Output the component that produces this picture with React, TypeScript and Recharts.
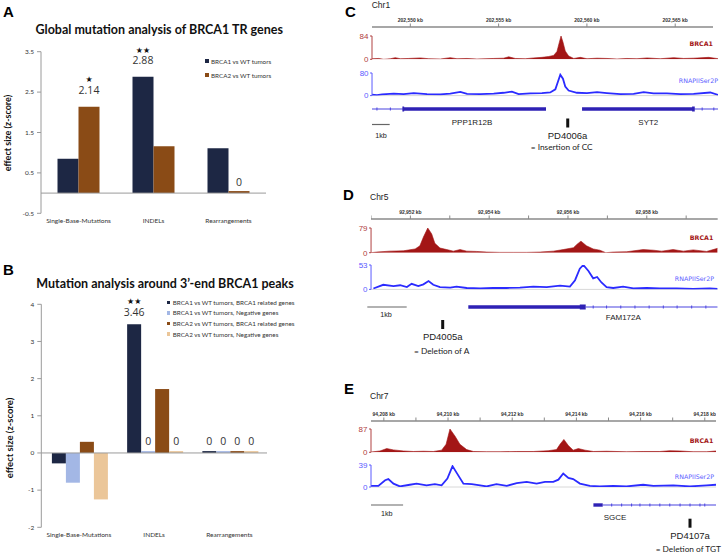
import React from 'react';
import {
  BarChart, Bar, XAxis, YAxis, ReferenceLine, LabelList, Legend,
  ComposedChart, Area, Line, ReferenceArea, Scatter,
} from 'recharts';

// ---------- Panel A / B data ----------
const categories = ['Single-Base-Mutations', 'INDELs', 'Rearrangements'];

const aBrca1 = [0.85, 2.88, 1.11];
const aBrca2 = [2.14, 1.16, 0.05];
const aBrca1Text = ['', '2.88', ''];
const aBrca1Stars = ['', '★★', ''];
const aBrca2Text = ['2.14', '', '0'];
const aBrca2Stars = ['★', '', ''];
const aTicks = [-0.5, 0.5, 1.5, 2.5, 3.5];

const bB1Rel = [-0.28, 3.46, 0.05];
const bB1Neg = [-0.8, 0.05, 0.05];
const bB2Rel = [0.3, 1.72, 0.05];
const bB2Neg = [-1.25, 0.05, 0.05];
const bB1RelText = ['', '3.46', '0'];
const bB1RelStars = ['', '★★', ''];
const bB1NegText = ['', '0', '0'];
const bB2RelText = ['', '', '0'];
const bB2NegText = ['', '0', '0'];
const noStars = ['', '', ''];
const bTicks = [-2, -1, 0, 1, 2, 3, 4];

// ---------- Panel C (Chr1) ----------
const cBrca1Pos = [202547.83, 202548.21, 202548.49, 202548.87, 202549.15, 202549.43, 202549.91, 202550.57, 202551.04, 202551.70, 202552.26, 202552.64, 202553.21, 202553.77, 202554.72, 202555.28, 202555.57, 202555.94, 202556.51, 202556.98, 202557.45, 202557.83, 202558.11, 202558.30, 202558.43, 202558.53, 202558.64, 202558.77, 202558.96, 202559.25, 202559.62, 202560.00, 202560.57, 202561.13, 202561.70, 202562.26, 202562.83, 202563.40, 202564.15, 202564.91, 202565.47, 202566.04, 202566.89, 202567.45];
const cBrca1Val = [2, 3, 0, 2, 6, 2, 3, 5, 2, 1, 6, 2, 3, 1, 3, 4, 9, 3, 2, 5, 7, 10, 14, 28, 60, 84, 62, 30, 12, 3, 7, 2, 4, 3, 1, 3, 2, 5, 2, 6, 3, 4, 7, 2];
const cPolPos = [202547.83, 202548.11, 202548.40, 202549.06, 202549.62, 202550.19, 202550.94, 202551.70, 202552.26, 202552.83, 202553.21, 202553.96, 202554.72, 202555.28, 202555.75, 202556.13, 202556.79, 202557.45, 202557.92, 202558.21, 202558.36, 202558.49, 202558.64, 202558.77, 202558.96, 202559.43, 202560.00, 202560.57, 202561.13, 202561.89, 202562.64, 202563.21, 202563.77, 202564.53, 202565.28, 202566.04, 202566.98, 202567.45];
const cPolVal = [3, 2, 4, 7, 5, 9, 5, 4, 7, 13, 6, 5, 7, 10, 14, 5, 8, 9, 11, 22, 50, 74, 60, 32, 18, 10, 9, 12, 9, 5, 6, 12, 8, 8, 5, 6, 11, 2];
const cTicks = [202550, 202555, 202560, 202565];
const cLabeled = [202550, 202555, 202560, 202565];
const cPeaks = [[202558.31, 202558.87]];
const cThin = [[202547.83, 202549.59], [202566.0, 202567.45]];
const cThick = [[202549.59, 202557.68], [202559.72, 202566.0]];
const cBoxes = [[202549.55, 202549.65], [202565.95, 202566.10]];
const cMarks = [202548.11, 202548.87, 202566.52, 202567.18];
const cMutation = 202558.91;

// ---------- Panel D (Chr5) ----------
const dBrca1Pos = [92951.00, 92951.14, 92951.48, 92951.82, 92952.12, 92952.24, 92952.33, 92952.44, 92952.54, 92952.62, 92952.75, 92952.92, 92953.09, 92953.26, 92953.43, 92953.68, 92953.94, 92954.27, 92954.61, 92954.95, 92955.29, 92955.63, 92955.88, 92956.14, 92956.24, 92956.33, 92956.47, 92956.64, 92956.81, 92956.96, 92957.15, 92957.49, 92957.91, 92958.17, 92958.38, 92958.67, 92958.93, 92959.18, 92959.52, 92959.80];
const dBrca1Val = [0, 2, 5, 6, 12, 22, 50, 79, 60, 30, 15, 10, 5, 10, 5, 4, 2, 1, 1, 1, 2, 5, 10, 16, 28, 37, 22, 12, 8, 0, 2, 3, 10, 8, 5, 10, 5, 9, 4, 14];
const dPolPos = [92951.06, 92951.31, 92951.57, 92951.74, 92951.91, 92952.03, 92952.20, 92952.33, 92952.46, 92952.58, 92952.75, 92953.01, 92953.17, 92953.43, 92953.77, 92954.10, 92954.44, 92954.78, 92955.12, 92955.46, 92955.80, 92956.05, 92956.18, 92956.30, 92956.39, 92956.52, 92956.64, 92956.74, 92956.85, 92956.98, 92957.15, 92957.40, 92957.66, 92958.00, 92958.33, 92958.76, 92959.18, 92959.60, 92959.80];
const dPolVal = [2, 10, 7, 9, 5, 12, 7, 11, 18, 10, 5, 4, 6, 3, 2, 3, 3, 4, 6, 5, 8, 6, 20, 45, 53, 40, 24, 27, 15, 5, 3, 6, 2, 3, 2, 2, 1, 2, 1];
const dTicks = [92951, 92952, 92953, 92954, 92955, 92956, 92957, 92958, 92959];
const dLabeled = [92952, 92954, 92956, 92958];
const dPeaks = [[92952.29, 92952.58], [92956.09, 92956.39]];
const dThin = [[92956.45, 92959.80]];
const dThick = [[92953.47, 92956.35]];
const dBoxes = [[92956.30, 92956.45]];
const dMarks = [92956.64, 92956.98, 92957.34, 92957.70, 92958.06, 92958.42, 92958.77, 92959.14, 92959.50];
const dMutation = 92952.82;

// ---------- Panel E (Chr7) ----------
const eBrca1Pos = [94207.60, 94207.88, 94208.09, 94208.30, 94208.61, 94208.92, 94209.23, 94209.54, 94209.80, 94209.94, 94210.06, 94210.22, 94210.37, 94210.58, 94210.79, 94211.20, 94211.62, 94212.14, 94212.66, 94213.12, 94213.38, 94213.49, 94213.61, 94213.75, 94213.90, 94214.06, 94214.27, 94214.53, 94214.94, 94215.56, 94216.08, 94216.60, 94216.91, 94217.23, 94217.64, 94218.06, 94218.35];
const eBrca1Val = [1, 5, 14, 9, 5, 3, 4, 3, 8, 30, 87, 60, 30, 10, 3, 2, 2, 3, 3, 6, 10, 30, 48, 25, 8, 14, 8, 3, 4, 2, 3, 3, 6, 5, 2, 2, 5];
const ePolPos = [94207.60, 94207.83, 94208.04, 94208.14, 94208.30, 94208.50, 94208.81, 94209.02, 94209.33, 94209.59, 94209.80, 94209.98, 94210.14, 94210.27, 94210.48, 94210.74, 94211.00, 94211.20, 94211.51, 94211.83, 94212.14, 94212.45, 94212.76, 94213.02, 94213.28, 94213.44, 94213.59, 94213.75, 94213.90, 94214.11, 94214.42, 94214.73, 94215.15, 94215.56, 94216.08, 94216.40, 94217.02, 94217.54, 94218.06, 94218.35];
const ePolVal = [2, 2, 12, 14, 6, 1, 4, 6, 3, 5, 3, 15, 37, 25, 6, 5, 3, 1, 5, 2, 7, 9, 6, 9, 9, 13, 24, 16, 14, 6, 2, 1, 2, 1, 4, 2, 3, 1, 3, 4];
const eTicks = [94208, 94209, 94210, 94211, 94212, 94213, 94214, 94215, 94216, 94217, 94218];
const eLabeled = [94208, 94210, 94212, 94214, 94216, 94218];
const ePeaks = [[94209.91, 94210.22], [94213.49, 94213.80]];
const eThin = [[94214.82, 94218.35]];
const eThick = [[94214.53, 94214.82]];
const eBoxes: number[][] = [];
const eMarks = [94215.10, 94215.41, 94215.72, 94215.98, 94216.29, 94216.60, 94216.91, 94217.23, 94217.54, 94217.85, 94218.00];
const eMutation = 94217.54;

// ---------- styles ----------
const FB = 'Lato, "Open Sans", sans-serif';
const FT = '"Liberation Sans", Arial, sans-serif';
const NAVY = '#1d2744';
const BROWN = '#8a4b16';
const LBLUE = '#a3b7e5';
const TAN = '#ebc699';
const RED = '#a31616';
const BLUE = '#2b2bff';
const GENE = '#2e21b5';
const GENE_THIN = '#4b44e0';

type TxtProps = {
  x: number; y: number; size: number; children: React.ReactNode;
  anchor?: 'start' | 'middle' | 'end'; weight?: number; color?: string; family?: string; rotate?: boolean;
};
function Txt({ x, y, size, children, anchor = 'middle', weight = 400, color = '#222', family = FT, rotate }: TxtProps) {
  const tx = anchor === 'start' ? '0' : anchor === 'end' ? '-100%' : '-50%';
  return (
    <div style={{
      position: 'absolute', left: x, top: y,
      transform: `translate(${tx}, -50%)${rotate ? ' rotate(-90deg)' : ''}`,
      fontSize: size, fontWeight: weight, color, fontFamily: family, lineHeight: 1, whiteSpace: 'nowrap',
    }}>{children}</div>
  );
}

const makeLabel = (stars: string[], starredGap: number, plainGap: number, starGap: number) => (props: any) => {
  const vb = props.viewBox && props.viewBox.width !== undefined ? props.viewBox : props;
  const { x, y, width } = vb;
  const idx = props.index;
  const text = props.value;
  if (!text) return null;
  const st = stars[idx] || '';
  const cx = x + width / 2;
  return (
    <g>
      {st ? <text x={cx} y={y - starGap} textAnchor="middle" fontSize={8} fontFamily="DejaVu Sans" fill="#111">{st}</text> : null}
      <text x={cx} y={y - (st ? starredGap : plainGap)} textAnchor="middle" fontSize={10.5} fontFamily='"Open Sans", sans-serif' fill="#333">{text}</text>
    </g>
  );
};

const legendContent = (rowH: number) => (props: any) => (
  <div>
    {(props.payload || []).map((p: any, i: number) => (
      <div key={i} style={{ display: 'flex', alignItems: 'center', height: rowH, fontSize: 6.3, fontFamily: FB, color: '#333', whiteSpace: 'nowrap' }}>
        <span style={{ display: 'inline-block', width: 3.5, height: 3.5, background: p.color, marginRight: 2.5 }} />
        {p.value}
      </div>
    ))}
  </div>
);

const dataA = categories.map((c, i) => ({ cat: c, b1: aBrca1[i], b2: aBrca2[i], t1: aBrca1Text[i], t2: aBrca2Text[i] }));
const dataB = categories.map((c, i) => ({
  cat: c, r1: bB1Rel[i], n1: bB1Neg[i], r2: bB2Rel[i], n2: bB2Neg[i],
  tr1: bB1RelText[i], tn1: bB1NegText[i], tr2: bB2RelText[i], tn2: bB2NegText[i],
}));

const axisTick = { fontSize: 6.5, fill: '#333', fontFamily: FB };

function ChartA() {
  return (
    <div style={{ position: 'absolute', left: 0, top: 40 }}>
      <BarChart width={270} height={195} data={dataA} margin={{ top: 11.7, right: 4, bottom: 6.7, left: 0 }} barCategoryGap={16.5} barGap={0}>
        <XAxis dataKey="cat" height={15} axisLine={false} tickLine={false} tickSize={0} tickMargin={5} interval={0} tick={axisTick} />
        <YAxis domain={[-0.5, 3.5]} ticks={aTicks} width={41} interval={0} tick={axisTick} tickSize={4} tickMargin={3}
          axisLine={{ stroke: '#9a9a9a' }} tickLine={{ stroke: '#9a9a9a' }} />
        <ReferenceLine y={0} stroke="#9a9a9a" />
        <Bar dataKey="b1" name="BRCA1 vs WT tumors" fill={NAVY} isAnimationActive={false}>
          <LabelList dataKey="t1" content={makeLabel(aBrca1Stars, 12.3, 5.5, 24)} />
        </Bar>
        <Bar dataKey="b2" name="BRCA2 vs WT tumors" fill={BROWN} isAnimationActive={false}>
          <LabelList dataKey="t2" content={makeLabel(aBrca2Stars, 12.3, 5.5, 24.5)} />
        </Bar>
        <Legend layout="vertical" align="center" verticalAlign="middle" content={legendContent(14)}
          wrapperStyle={{ top: 14.2, left: 205, width: 80, height: 30 }} />
      </BarChart>
    </div>
  );
}

function ChartB() {
  return (
    <div style={{ position: 'absolute', left: 0, top: 290 }}>
      <BarChart width={270} height={255} data={dataB} margin={{ top: 14.3, right: 3, bottom: 2.7, left: 0 }} barCategoryGap={10.6} barGap={0}>
        <XAxis dataKey="cat" height={15} axisLine={false} tickLine={false} tickSize={0} tickMargin={5} interval={0} tick={axisTick} />
        <YAxis domain={[-2, 4]} ticks={bTicks} width={41.3} interval={0} tick={axisTick} tickSize={4} tickMargin={3}
          axisLine={{ stroke: '#9a9a9a' }} tickLine={{ stroke: '#9a9a9a' }} />
        <ReferenceLine y={0} stroke="#9a9a9a" />
        <Bar dataKey="r1" name="BRCA1 vs WT tumors, BRCA1 related genes" fill={NAVY} isAnimationActive={false}>
          <LabelList dataKey="tr1" content={makeLabel(bB1RelStars, 8.3, 6, 20.5)} />
        </Bar>
        <Bar dataKey="n1" name="BRCA1 vs WT tumors, Negative genes" fill={LBLUE} isAnimationActive={false}>
          <LabelList dataKey="tn1" content={makeLabel(noStars, 8.3, 6, 20.5)} />
        </Bar>
        <Bar dataKey="r2" name="BRCA2 vs WT tumors, BRCA1 related genes" fill={BROWN} isAnimationActive={false}>
          <LabelList dataKey="tr2" content={makeLabel(noStars, 8.3, 6, 20.5)} />
        </Bar>
        <Bar dataKey="n2" name="BRCA2 vs WT tumors, Negative genes" fill={TAN} isAnimationActive={false}>
          <LabelList dataKey="tn2" content={makeLabel(noStars, 8.3, 6, 20.5)} />
        </Bar>
        <Legend layout="vertical" align="center" verticalAlign="middle" content={legendContent(10.6)}
          wrapperStyle={{ top: 7, left: 166.7, width: 140, height: 44 }} />
      </BarChart>
    </div>
  );
}

// ---------- genome track panel ----------
type PanelCfg = {
  left: number; right: number; domain: [number, number];
  rulerY: number; rulerRight: number; rulerEnd: number; ticks: number[]; labeled: number[];
  b1Top: number; b1Zero: number; b1Max: number; b1Pos: number[]; b1Val: number[];
  pkTop: number; pkBottom: number; peaks: number[][];
  polTop: number; polZero: number; polMax: number; polPos: number[]; polVal: number[];
  geneY: number; thin: number[][]; thick: number[][]; boxes: number[][]; marks: number[];
  mutation: number; mutDy: number; scaleStart: number; scaleDy: number;
};

const fmtKb = (v: number) => `${Math.round(v).toLocaleString('en-US')} kb`;

function Tracks({ c }: { c: PanelCfg }) {
  const w = c.right - c.left;
  const yw = 32;
  const b1Data = c.b1Pos.map((x, i) => ({ x, v: c.b1Val[i] }));
  const polData = c.polPos.map((x, i) => ({ x, v: c.polVal[i] }));
  return (
    <>
      {/* ruler */}
      <div style={{ position: 'absolute', left: c.left, top: c.rulerY - 20 }}>
        <ComposedChart width={c.rulerRight - c.left} height={24} margin={{ top: 0, right: 0, bottom: 0, left: 0 }} data={b1Data}>
          <XAxis type="number" dataKey="x" orientation="top" domain={[c.domain[0], c.rulerEnd]} ticks={c.ticks} interval={0}
            height={20} allowDataOverflow tickSize={3.5} tickMargin={1.5}
            axisLine={{ stroke: '#8a8a8a', strokeWidth: 1.3 }} tickLine={{ stroke: '#8a8a8a' }}
            tick={{ fontSize: 5, fontWeight: 700, fill: '#333', fontFamily: FT }}
            tickFormatter={(v: number) => (c.labeled.includes(v) ? fmtKb(v) : '')} />
          <YAxis hide domain={[0, 1]} />
        </ComposedChart>
      </div>
      {/* BRCA1 signal */}
      <div style={{ position: 'absolute', left: c.left - yw, top: c.b1Top - 4 }}>
        <ComposedChart width={w + yw} height={c.b1Zero - c.b1Top + 8} data={b1Data} margin={{ top: 4, right: 0, bottom: 4, left: 0 }}>
          <XAxis type="number" dataKey="x" domain={c.domain} hide allowDataOverflow />
          <YAxis domain={[0, c.b1Max]} ticks={[0, c.b1Max]} interval={0} width={yw} allowDataOverflow
            axisLine={{ stroke: '#b04040' }} tickLine={{ stroke: '#b04040' }} tickSize={2} tickMargin={1.5}
            tick={{ fontSize: 8, fill: '#b04040', fontFamily: FT }} />
          <Area type="linear" dataKey="v" stroke={RED} strokeWidth={0.6} fill={RED} fillOpacity={1} dot={false} activeDot={false} isAnimationActive={false} />
        </ComposedChart>
      </div>
      {/* peak calls */}
      <div style={{ position: 'absolute', left: c.left, top: c.pkTop }}>
        <ComposedChart width={w} height={c.pkBottom - c.pkTop} margin={{ top: 0, right: 0, bottom: 0, left: 0 }} data={b1Data}>
          <XAxis type="number" dataKey="x" domain={c.domain} hide allowDataOverflow />
          <YAxis hide domain={[0, 1]} />
          {c.peaks.map((p, i) => (
            <ReferenceArea key={i} x1={p[0]} x2={p[1]} y1={0} y2={1} fill="#e8a2a2" fillOpacity={1} stroke="none" ifOverflow="hidden" />
          ))}
        </ComposedChart>
      </div>
      {/* RNAPII signal */}
      <div style={{ position: 'absolute', left: c.left - yw, top: c.polTop - 4 }}>
        <ComposedChart width={w + yw} height={c.polZero - c.polTop + 8} data={polData} margin={{ top: 4, right: 0, bottom: 4, left: 0 }}>
          <XAxis type="number" dataKey="x" domain={c.domain} hide allowDataOverflow />
          <YAxis domain={[0, c.polMax]} ticks={[0, c.polMax]} interval={0} width={yw} allowDataOverflow
            axisLine={{ stroke: '#5a5aff' }} tickLine={{ stroke: '#5a5aff' }} tickSize={2} tickMargin={1.5}
            tick={{ fontSize: 8, fill: '#5a5aff', fontFamily: FT }} />
          <ReferenceLine y={0} stroke="#d8d8d8" />
          <Line type="linear" dataKey="v" stroke={BLUE} strokeWidth={1.8} dot={false} activeDot={false} isAnimationActive={false} />
        </ComposedChart>
      </div>
      {/* gene models, scale bar, mutation */}
      <div style={{ position: 'absolute', left: c.left - 8, top: c.geneY - 6 }}>
        <ComposedChart width={w + 8} height={30} margin={{ top: 0, right: 0, bottom: 0, left: 8 }} data={[{ x: c.mutation, y: c.mutDy }]}>
          <XAxis type="number" dataKey="x" domain={c.domain} hide allowDataOverflow />
          <YAxis type="number" dataKey="y" domain={[-24, 6]} hide allowDataOverflow />
          {c.thin.map((s, i) => (
            <ReferenceArea key={`t${i}`} x1={s[0]} x2={s[1]} y1={-0.5} y2={0.5} fill={GENE_THIN} fillOpacity={1} stroke="none" ifOverflow="hidden" />
          ))}
          {c.thick.map((s, i) => (
            <ReferenceArea key={`k${i}`} x1={s[0]} x2={s[1]} y1={-1.7} y2={1.7} fill={GENE} fillOpacity={1} stroke="none" ifOverflow="hidden" />
          ))}
          {c.boxes.map((s, i) => (
            <ReferenceArea key={`b${i}`} x1={s[0]} x2={s[1]} y1={-2.6} y2={2.6} fill={GENE} fillOpacity={1} stroke="none" ifOverflow="hidden" />
          ))}
          {c.marks.map((m, i) => (
            <ReferenceLine key={`m${i}`} segment={[{ x: m, y: -1.5 }, { x: m, y: 1.5 }]} stroke={GENE_THIN} strokeWidth={1} ifOverflow="visible" />
          ))}
          <ReferenceLine segment={[{ x: c.scaleStart, y: c.scaleDy }, { x: c.scaleStart + 1, y: c.scaleDy }]} stroke="#666" strokeWidth={1.2} ifOverflow="visible" />
          <Scatter dataKey="y" fill="#111" isAnimationActive={false}
            shape={(p: any) => <rect x={p.cx - 1.5} y={p.cy - 4.5} width={3} height={9} fill="#111" />} />
        </ComposedChart>
      </div>
    </>
  );
}

const panelC: PanelCfg = {
  left: 371.7, right: 718.3, domain: [202547.83, 202567.45],
  rulerY: 26.7, rulerRight: 712.7, rulerEnd: 202567.14, ticks: cTicks, labeled: cLabeled,
  b1Top: 36, b1Zero: 59.3, b1Max: 84, b1Pos: cBrca1Pos, b1Val: cBrca1Val,
  pkTop: 63.3, pkBottom: 65.5, peaks: cPeaks,
  polTop: 72.7, polZero: 95.3, polMax: 80, polPos: cPolPos, polVal: cPolVal,
  geneY: 108.5, thin: cThin, thick: cThick, boxes: cBoxes, marks: cMarks,
  mutation: cMutation, mutDy: -14, scaleStart: 202547.83, scaleDy: -15.5,
};
const panelD: PanelCfg = {
  left: 371, right: 717.7, domain: [92951.0, 92959.8],
  rulerY: 219.3, rulerRight: 717.7, rulerEnd: 92959.8, ticks: dTicks, labeled: dLabeled,
  b1Top: 228, b1Zero: 252.7, b1Max: 79, b1Pos: dBrca1Pos, b1Val: dBrca1Val,
  pkTop: 255.3, pkBottom: 258, peaks: dPeaks,
  polTop: 265.3, polZero: 289.7, polMax: 53, polPos: dPolPos, polVal: dPolVal,
  geneY: 306.7, thin: dThin, thick: dThick, boxes: dBoxes, marks: dMarks,
  mutation: dMutation, mutDy: -17.5, scaleStart: 92950.906, scaleDy: 0,
};
const panelE: PanelCfg = {
  left: 371, right: 716, domain: [94207.6, 94218.35],
  rulerY: 420.7, rulerRight: 716, rulerEnd: 94218.35, ticks: eTicks, labeled: eLabeled,
  b1Top: 428.7, b1Zero: 452, b1Max: 87, b1Pos: eBrca1Pos, b1Val: eBrca1Val,
  pkTop: 455, pkBottom: 457.3, peaks: ePeaks,
  polTop: 464.7, polZero: 486.7, polMax: 39, polPos: ePolPos, polVal: ePolVal,
  geneY: 505, thin: eThin, thick: eThick, boxes: eBoxes, marks: eMarks,
  mutation: eMutation, mutDy: -18.2, scaleStart: 94207.6, scaleDy: 0,
};

export default function App() {
  const pl = { size: 15, weight: 700, anchor: 'start' as const, color: '#000', family: '"Liberation Sans", Arial, sans-serif' };
  const trkLbl = { size: 6.3, weight: 700, anchor: 'end' as const, family: '"DejaVu Sans", sans-serif' };
  return (
    <div style={{ position: 'absolute', left: 0, top: 0, width: 726, height: 555, background: '#fff', overflow: 'hidden' }}>
      <ChartA />
      <ChartB />
      <Tracks c={panelC} />
      <Tracks c={panelD} />
      <Tracks c={panelE} />

      {/* panel letters */}
      <Txt x={3} y={10.8} {...pl}>A</Txt>
      <Txt x={3} y={269.2} {...pl}>B</Txt>
      <Txt x={345} y={10.8} {...pl}>C</Txt>
      <Txt x={343} y={193.5} {...pl}>D</Txt>
      <Txt x={344} y={387.5} {...pl}>E</Txt>

      {/* bar chart titles */}
      <Txt x={159.2} y={30.2} size={12.5} weight={700} family={FB} color="#111">Global mutation analysis of BRCA1 TR genes</Txt>
      <Txt x={165} y={284.3} size={12.5} weight={700} family={FB} color="#111">Mutation analysis around 3’-end BRCA1 peaks</Txt>
      <Txt x={7} y={132.7} size={9} weight={700} family={FB} color="#111" rotate>effect size (z-score)</Txt>
      <Txt x={9.5} y={438} size={9.5} weight={700} family={FB} color="#111" rotate>effect size (z-score)</Txt>

      {/* C texts */}
      <Txt x={371.7} y={5.3} size={8.5} anchor="start">Chr1</Txt>
      <Txt x={713} y={44} {...trkLbl} color={RED}>BRCA1</Txt>
      <Txt x={718} y={81} {...trkLbl} weight={400} color="#5a5aff">RNAPIISer2P</Txt>
      <Txt x={472} y={123.3} size={8}>PPP1R12B</Txt>
      <Txt x={648.3} y={123.3} size={8}>SYT2</Txt>
      <Txt x={381} y={136} size={7.2}>1kb</Txt>
      <Txt x={567.5} y={135.7} size={9.5}>PD4006a</Txt>
      <Txt x={561.7} y={147} size={8.3} family={FB}>= Insertion of CC</Txt>

      {/* D texts */}
      <Txt x={370} y={196.7} size={8.5} anchor="start">Chr5</Txt>
      <Txt x={713.3} y={237.7} {...trkLbl} color={RED}>BRCA1</Txt>
      <Txt x={714} y={279.3} {...trkLbl} weight={400} color="#5a5aff">RNAPIISer2P</Txt>
      <Txt x={623.3} y={318.3} size={8}>FAM172A</Txt>
      <Txt x={386} y={315} size={7.2}>1kb</Txt>
      <Txt x={442.7} y={337.3} size={9.5}>PD4005a</Txt>
      <Txt x={441.7} y={351} size={8.3} family={FB}>= Deletion of A</Txt>

      {/* E texts */}
      <Txt x={370} y={396} size={8.5} anchor="start">Chr7</Txt>
      <Txt x={713.3} y={440.7} {...trkLbl} color={RED}>BRCA1</Txt>
      <Txt x={714} y={476.7} {...trkLbl} weight={400} color="#5a5aff">RNAPIISer2P</Txt>
      <Txt x={615} y={518.3} size={8}>SGCE</Txt>
      <Txt x={386.7} y={514.3} size={7.2}>1kb</Txt>
      <Txt x={690} y={535.7} size={9.5}>PD4107a</Txt>
      <Txt x={688.3} y={549.3} size={8.3} family={FB}>= Deletion of TGT</Txt>
    </div>
  );
}
